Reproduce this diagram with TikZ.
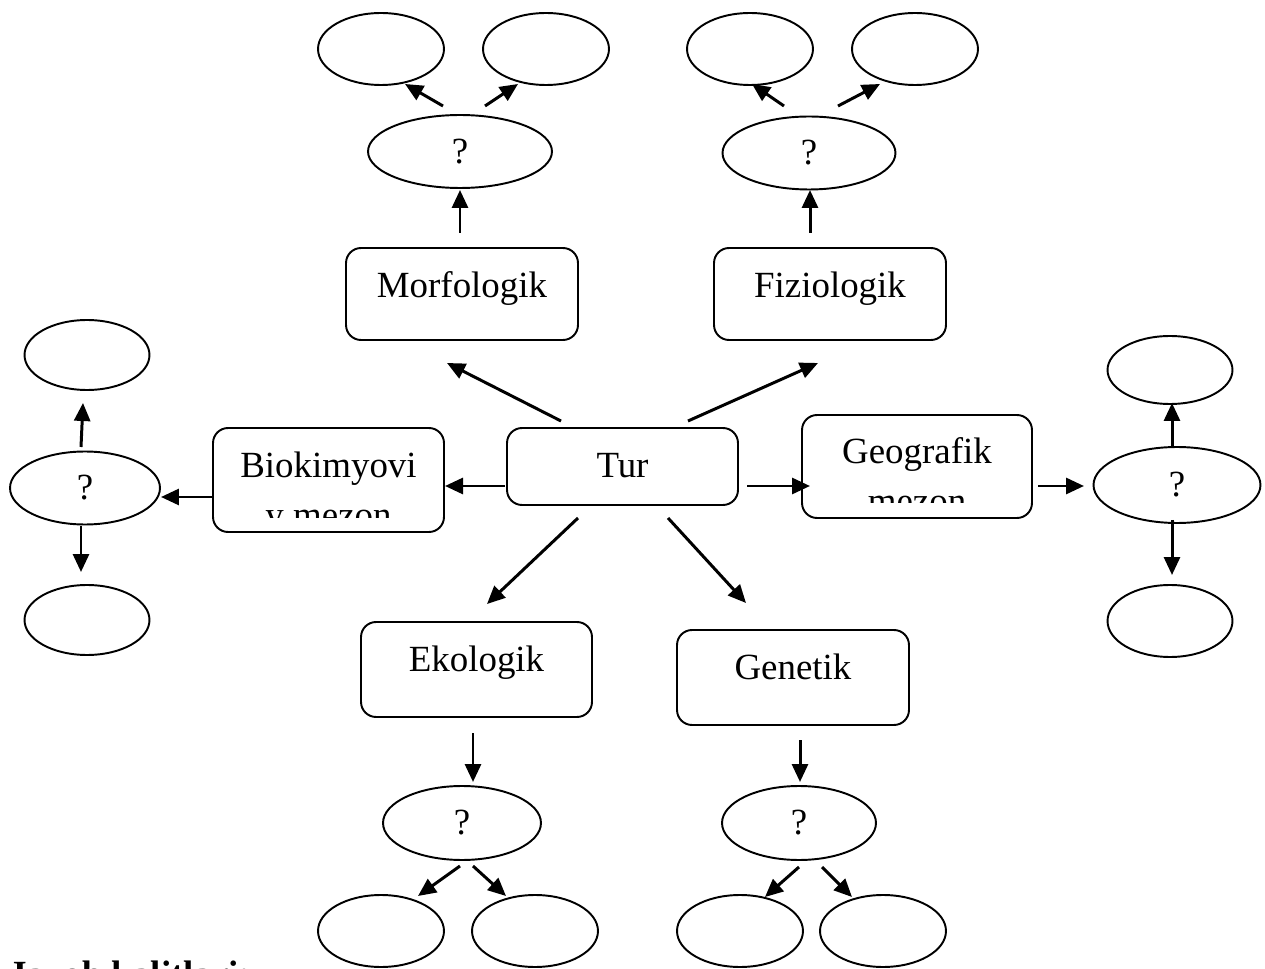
\documentclass[tikz,border=0pt]{standalone}
\usepackage{fontspec}
\setmainfont{Liberation Serif}
\usetikzlibrary{shapes.geometric,arrows.meta}
\begin{document}
\begin{tikzpicture}[x=0.02cm,y=-0.02cm,
  box/.style={draw,line width=1.1pt,rounded corners=0.3cm,inner sep=0pt},
  oval/.style={draw,ellipse,line width=1.1pt,inner sep=0pt,font=\fontsize{21}{28}\selectfont},
  small/.style={oval,minimum width=2.52cm,minimum height=1.44cm},
  lbl/.style={font=\fontsize{21}{28}\selectfont,inner sep=0pt,anchor=base},
  arr/.style={line width=1.7pt,-{Triangle[length=0.36cm,width=0.32cm]}},
]
\useasboundingbox (0,0) rectangle (1265,969);

% boxes
\node[box,minimum width=4.62cm,minimum height=1.54cm] (tur) at (622.5,466.5) {};
\node[lbl] (turT) at (622.5,478) {Tur};
\node[box,minimum width=4.64cm,minimum height=1.84cm] (morf) at (462,294) {};
\node[lbl] (morfT) at (462,298) {Morfologik};
\node[box,minimum width=4.64cm,minimum height=1.84cm] (fiz) at (830,294) {};
\node[lbl] (fizT) at (830,298) {Fiziologik};
\node[box,minimum width=4.62cm,minimum height=2.08cm] (bio) at (328.5,480) {};
\begin{scope}
\clip (213,428) rectangle (444,518);
\node[lbl] (bioT) at (328.5,478) {Biokimyovi};
\node[lbl] (bioT2) at (328.5,527) {y mezon};
\end{scope}
\node[box,minimum width=4.6cm,minimum height=2.06cm] (geo) at (917,466.5) {};
\begin{scope}
\clip (802,415) rectangle (1032,503);
\node[lbl] (geoT) at (917,464) {Geografik};
\node[lbl] (geoT2) at (917,514) {mezon};
\end{scope}
\node[box,minimum width=4.62cm,minimum height=1.9cm] (eko) at (476.5,669.5) {};
\node[lbl] (ekoT) at (476.5,671) {Ekologik};
\node[box,minimum width=4.64cm,minimum height=1.9cm] (gen) at (793,677.5) {};
\node[lbl] (genT) at (793,679) {Genetik};

% question ellipses
\node[oval,minimum width=3.68cm,minimum height=1.46cm] (qtl) at (460,151.5) {?};
\node[oval,minimum width=3.46cm,minimum height=1.46cm] (qtr) at (809,153) {?};
\node[oval,minimum width=3.0cm,minimum height=1.46cm] (ql) at (85,488) {?};
\node[oval,minimum width=3.34cm,minimum height=1.52cm] (qr) at (1177,485) {?};
\node[oval,minimum width=3.16cm,minimum height=1.48cm] (qbl) at (462,823) {?};
\node[oval,minimum width=3.08cm,minimum height=1.48cm] (qbr) at (799,823) {?};

% empty ellipses
\node[small] (tl1) at (381,49) {};
\node[small] (tl2) at (546,49) {};
\node[small] (tr1) at (750,49) {};
\node[small] (tr2) at (915,49) {};
\node[small,minimum width=2.5cm,minimum height=1.4cm] (l1) at (87,355) {};
\node[small,minimum width=2.5cm,minimum height=1.4cm] (l2) at (87,620) {};
\node[small,minimum width=2.5cm,minimum height=1.36cm] (r1) at (1170,370) {};
\node[small,minimum width=2.5cm,minimum height=1.44cm] (r2) at (1170,621) {};
\node[small] (bl1) at (381,931) {};
\node[small] (bl2) at (535,931) {};
\node[small] (br1) at (740,931) {};
\node[small] (br2) at (883,931) {};

% arrow end points
\coordinate (a1s) at (561,421); \coordinate (a1e) at (447,363);
\coordinate (a2s) at (688,421); \coordinate (a2e) at (818,363);
\coordinate (a3s) at (505,486); \coordinate (a3e) at (445,486);
\coordinate (a4s) at (747,486); \coordinate (a4e) at (810,486);
\coordinate (a5s) at (578,518); \coordinate (a5e) at (487,604);
\coordinate (a6s) at (668,518); \coordinate (a6e) at (746,603);
\coordinate (b1s) at (460,233); \coordinate (b1e) at (460,190);
\coordinate (b2s) at (810,233); \coordinate (b2e) at (810,190);
\coordinate (c1s) at (443,106); \coordinate (c1e) at (405,84);
\coordinate (c2s) at (485,106); \coordinate (c2e) at (518,84);
\coordinate (c3s) at (784,106); \coordinate (c3e) at (752,84);
\coordinate (c4s) at (838,106); \coordinate (c4e) at (880,84);
\coordinate (d1s) at (213,497); \coordinate (d1e) at (161,497);
\coordinate (d2s) at (81,447);  \coordinate (d2e) at (83,403);
\coordinate (d3s) at (81,526);  \coordinate (d3e) at (81,572);
\coordinate (e1s) at (1038,486); \coordinate (e1e) at (1084,486);
\coordinate (e2s) at (1172,447); \coordinate (e2e) at (1172,403);
\coordinate (e3s) at (1172,520); \coordinate (e3e) at (1172,575);
\coordinate (f1s) at (473,733); \coordinate (f1e) at (473,782);
\coordinate (f2s) at (800,740); \coordinate (f2e) at (800,782);
\coordinate (g1s) at (460,866); \coordinate (g1e) at (418,896);
\coordinate (g2s) at (473,866); \coordinate (g2e) at (506,896);
\coordinate (g3s) at (799,867); \coordinate (g3e) at (765,897);
\coordinate (g4s) at (822,867); \coordinate (g4e) at (852,897);

\foreach \p in {a1,a2,a3,a4,a5,a6,b1,b2,c1,c2,c3,c4,d1,d2,d3,e1,e2,e3,f1,f2,g1,g2,g3,g4}
  \draw[arr] (\p s) -- (\p e);

% cut-off bold line at the bottom
\begin{scope}
\clip (0,940) rectangle (320,969);
\node[lbl,font=\bfseries\fontsize{21}{28}\selectfont,anchor=base west] (foot) at (8,986) {Javob kalitlari:};
\end{scope}
\end{tikzpicture}
\end{document}
